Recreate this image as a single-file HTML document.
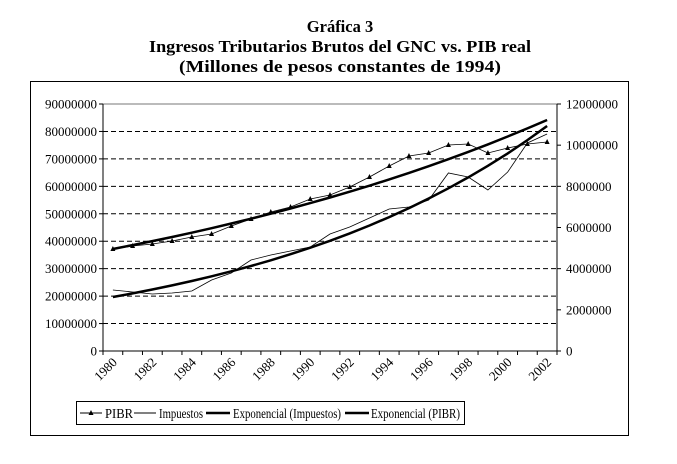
<!DOCTYPE html>
<html><head><meta charset="utf-8"><style>
body{margin:0;background:#fff;width:677px;height:459px;overflow:hidden;font-family:"Liberation Serif",serif;}
</style></head><body>
<svg id="s" width="677" height="459" xmlns="http://www.w3.org/2000/svg" font-family="Liberation Serif, serif">
<text x="340" y="32" font-size="16.5" font-weight="bold" text-anchor="middle">Gráfica 3</text>
<text x="340" y="52" font-size="16.5" font-weight="bold" text-anchor="middle" textLength="382" lengthAdjust="spacingAndGlyphs">Ingresos Tributarios Brutos del GNC vs. PIB real</text>
<text x="340" y="72" font-size="16.5" font-weight="bold" text-anchor="middle" textLength="322" lengthAdjust="spacingAndGlyphs">(Millones de pesos constantes de 1994)</text>
<rect x="30.5" y="81.5" width="598" height="354" fill="none" stroke="#000" stroke-width="1"/>
<g id="g"></g>
<rect x="76.5" y="401.5" width="388" height="23" fill="none" stroke="#000"/>
<line x1="80" y1="413" x2="102" y2="413" stroke="#000"/><path d="M91 410 L93.5 415 L88.5 415Z" fill="#000"/>
<text x="105" y="418" font-size="13.5" textLength="28" lengthAdjust="spacingAndGlyphs">PIBR</text>
<line x1="134" y1="413" x2="156" y2="413" stroke="#000"/>
<text x="159" y="418" font-size="13.5" textLength="44" lengthAdjust="spacingAndGlyphs">Impuestos</text>
<line x1="206" y1="413" x2="230" y2="413" stroke="#000" stroke-width="2.5"/>
<text x="233" y="418" font-size="13.5" textLength="108" lengthAdjust="spacingAndGlyphs">Exponencial (Impuestos)</text>
<line x1="345" y1="413" x2="369" y2="413" stroke="#000" stroke-width="2.5"/>
<text x="371" y="418" font-size="13.5" textLength="89" lengthAdjust="spacingAndGlyphs">Exponencial (PIBR)</text>
</svg>
<script>
var g=document.getElementById('g'),h='';
var L=103,R=557,T=104,B=351,n=23,w=(R-L)/n;
for(var i=1;i<=9;i++){var y=B-(B-T)*i/9;
 h+='<line x1="'+L+'" y1="'+y+'" x2="'+R+'" y2="'+y+'" stroke="'+(i==9?'#777':'#000')+'" '+(i==9?'':'stroke-dasharray="5,3"')+'/>';}
for(var i=0;i<=9;i++){var y=B-(B-T)*i/9;h+='<line x1="'+(L-4)+'" y1="'+y+'" x2="'+L+'" y2="'+y+'" stroke="#000"/><text x="97" y="'+(y+4.5)+'" font-size="13" text-anchor="end">'+(i*10000000)+'</text>';}
for(var i=0;i<=6;i++){var y=B-(B-T)*i/6;h+='<line x1="'+R+'" y1="'+y+'" x2="'+(R+4)+'" y2="'+y+'" stroke="#000"/><text x="566" y="'+(y+4.5)+'" font-size="13">'+(i*2000000)+'</text>';}
h+='<line x1="'+L+'" y1="'+T+'" x2="'+L+'" y2="'+B+'" stroke="#000"/><line x1="'+R+'" y1="'+T+'" x2="'+R+'" y2="'+B+'" stroke="#000"/><line x1="'+L+'" y1="'+B+'" x2="'+R+'" y2="'+B+'" stroke="#000"/>';
for(var i=0;i<=n;i++){var x=L+w*i;h+='<line x1="'+x+'" y1="'+B+'" x2="'+x+'" y2="'+(B+4)+'" stroke="#000"/>';}
for(var i=0;i<n;i+=2){var x=L+w*(i+0.5);h+='<text font-size="13" text-anchor="end" transform="translate('+(x+5)+','+(B+12)+') rotate(-45)">'+(1980+i)+'</text>';}
function cx(i){return L+w*(i+0.5);}
var P=[249,246,244,241,237,234,226,219,212,207,199,195,187,177,166,156,153,145,144,153,148,144,142];
var I=[290,292,294,293,291,280,273,260,255,251,247,234,227,218,209,207,200,173,177,190,172,143,134];
function path(a){return a.map(function(y,i){return (i?'L':'M')+cx(i).toFixed(1)+' '+y}).join(' ');}
function expo(y0,y1){var v0=B-y0,v1=B-y1,a=[];for(var i=0;i<n;i++){a.push((B-v0*Math.pow(v1/v0,i/(n-1))).toFixed(1));}return a;}
h+='<path d="'+path(expo(297,126))+'" fill="none" stroke="#000" stroke-width="2.5"/>';
h+='<path d="'+path(expo(249,120))+'" fill="none" stroke="#000" stroke-width="2.5"/>';
h+='<path d="'+path(I)+'" fill="none" stroke="#000" stroke-width="0.8"/>';
h+='<path d="'+path(P)+'" fill="none" stroke="#000" stroke-width="0.8"/>';
P.forEach(function(y,i){var x=cx(i);h+='<path d="M'+x+' '+(y-3)+' L'+(x+2.5)+' '+(y+2)+' L'+(x-2.5)+' '+(y+2)+'Z" fill="#000"/>';});
g.innerHTML=h;
</script>
</body></html>
